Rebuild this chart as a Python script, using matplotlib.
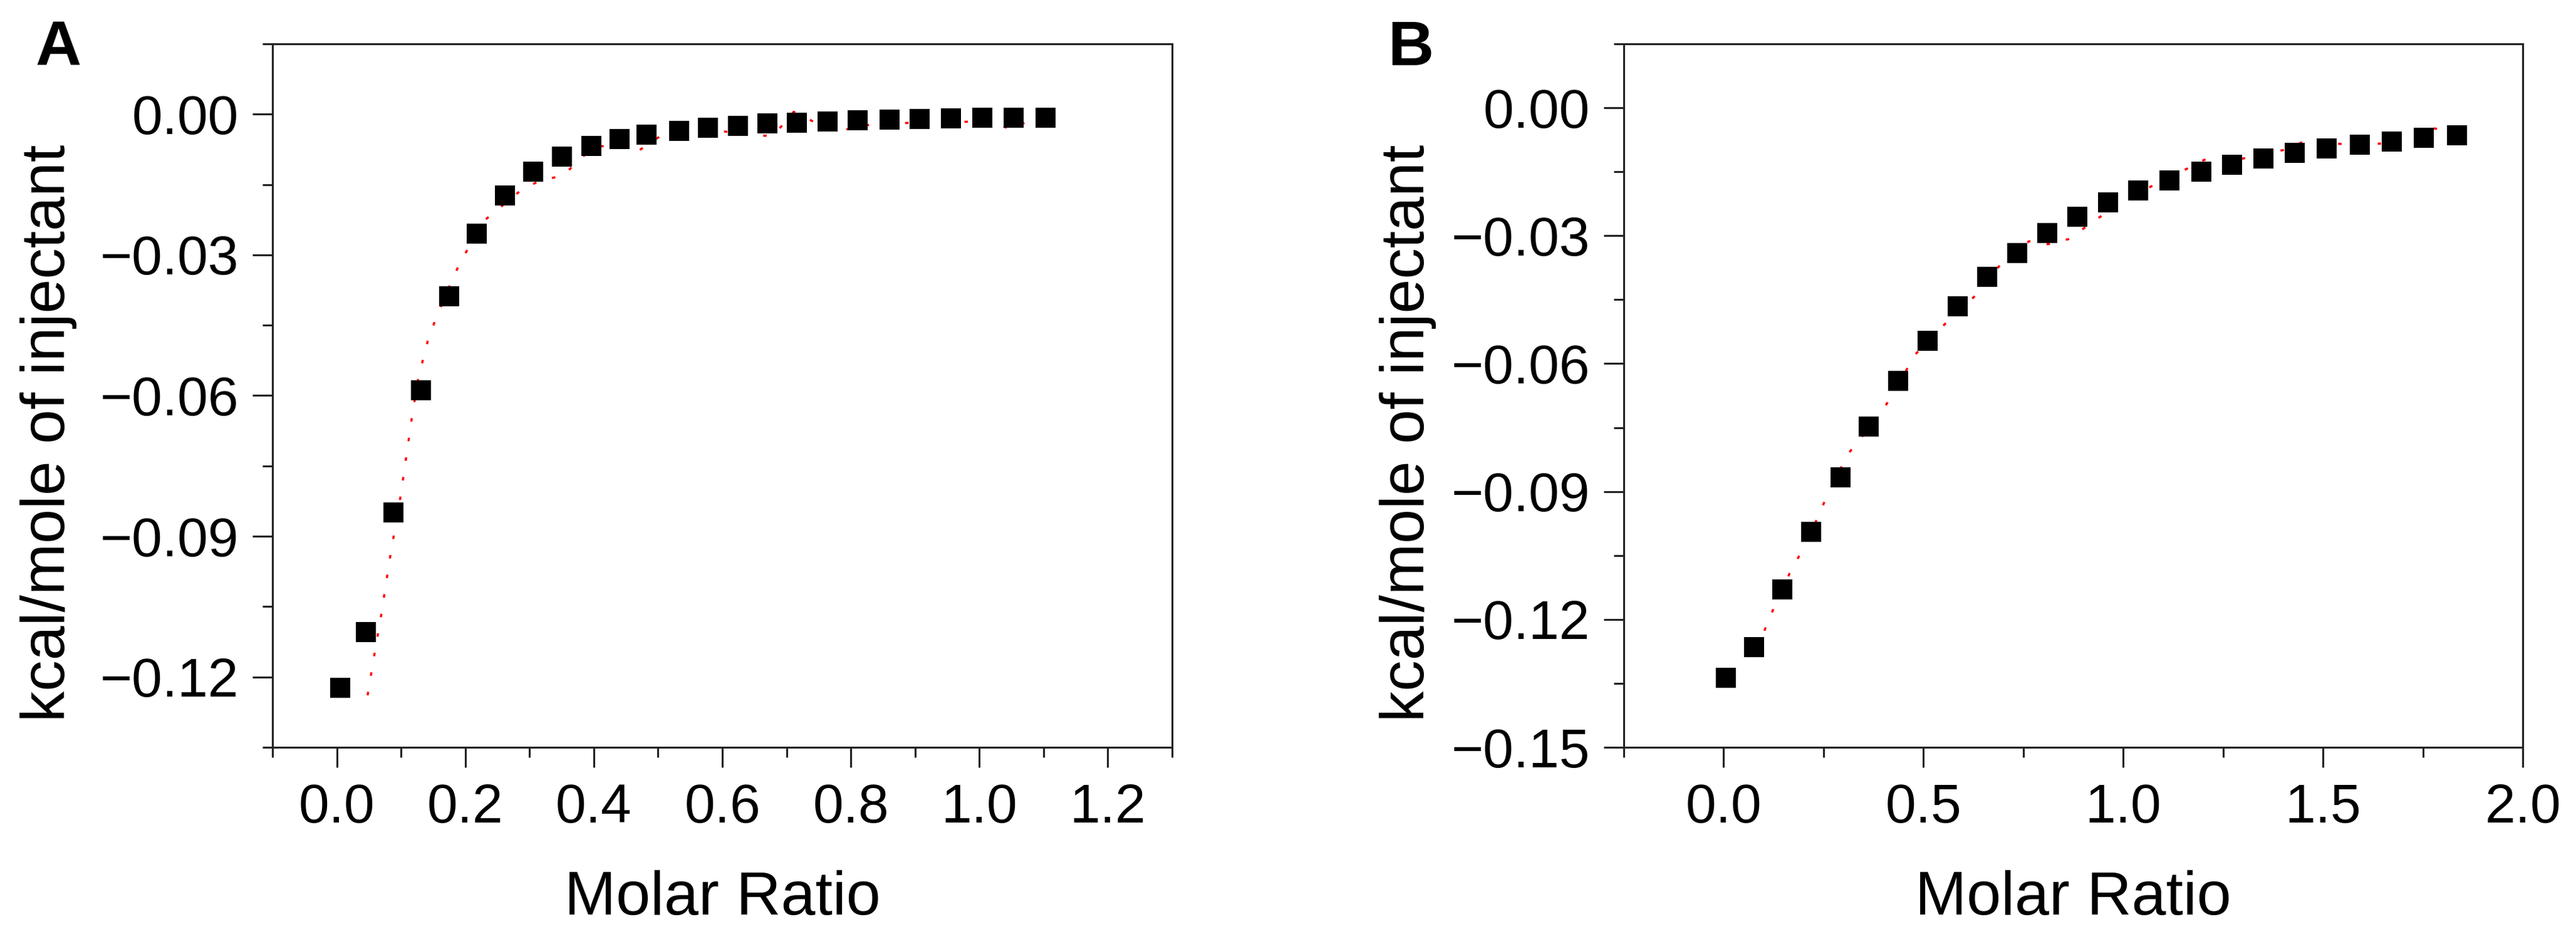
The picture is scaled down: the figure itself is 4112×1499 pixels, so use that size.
import matplotlib

matplotlib.use("Agg")
import matplotlib.pyplot as plt
from matplotlib.ticker import FuncFormatter, MultipleLocator

plt.rcParams["font.family"] = ["Liberation Sans", "DejaVu Sans"]

# ---- panel A: injection data and fitted curve ----
a_ratio = [0.005, 0.045, 0.088, 0.131, 0.175, 0.218, 0.262, 0.306, 0.350, 0.396,
           0.440, 0.482, 0.533, 0.578, 0.624, 0.670, 0.716, 0.764, 0.811, 0.860,
           0.907, 0.956, 1.005, 1.053, 1.103]
a_heat = [-0.1223, -0.1104, -0.0849, -0.0589, -0.0388, -0.0255, -0.0173, -0.0122,
          -0.0091, -0.0068, -0.0053, -0.0044, -0.0035, -0.0029, -0.0025, -0.0020,
          -0.0018, -0.0016, -0.0013, -0.0012, -0.0010, -0.0009, -0.0008, -0.0007,
          -0.0007]
a_fit_ratio = [0.048, 0.058, 0.069, 0.083, 0.099, 0.108, 0.117, 0.127, 0.143, 0.155,
               0.181, 0.196, 0.232, 0.293, 0.324, 0.353, 0.380, 0.411, 0.473, 0.501,
               0.528, 0.557, 0.651, 0.680, 0.711, 0.742, 0.773, 0.835, 0.927, 0.989,
               1.021, 1.052, 1.083, 1.103]
a_fit_heat = [-0.1239, -0.1156, -0.1069, -0.0944, -0.0817, -0.0732, -0.0646, -0.0562,
              -0.0476, -0.0434, -0.0348, -0.0306, -0.0224, -0.0155, -0.0139, -0.0131,
              -0.0092, -0.0068, -0.0075, -0.0049, -0.0008, -0.0027, -0.0047, -0.0045,
              0.0005, -0.0016, -0.0038, -0.0021, -0.0017, -0.0016, -0.0019, -0.0033,
              -0.0008, -0.0007]

# ---- panel B ----
b_ratio = [0.006, 0.076, 0.147, 0.219, 0.292, 0.363, 0.437, 0.510, 0.585, 0.659,
           0.734, 0.810, 0.885, 0.962, 1.038, 1.116, 1.195, 1.273, 1.351, 1.430,
           1.510, 1.592, 1.672, 1.753, 1.835]
b_heat = [-0.1337, -0.1265, -0.1130, -0.0995, -0.0867, -0.0747, -0.0640, -0.0546,
          -0.0465, -0.0397, -0.0341, -0.0293, -0.0255, -0.0221, -0.0194, -0.0171,
          -0.0150, -0.0134, -0.0119, -0.0106, -0.0096, -0.0086, -0.0079, -0.0071,
          -0.0065]
b_fit_ratio = [0.080, 0.099, 0.120, 0.165, 0.192, 0.240, 0.260, 0.312, 0.393, 0.423,
               0.480, 0.557, 0.649, 0.688, 0.764, 0.812, 0.863, 0.910, 1.004, 1.153,
               1.203, 1.300, 1.401, 1.450, 1.550, 1.646, 1.701, 1.751, 1.798, 1.835]
b_fit_heat = [-0.1268, -0.1233, -0.1185, -0.1092, -0.1046, -0.0952, -0.0906, -0.0811,
              -0.0717, -0.0672, -0.0578, -0.0504, -0.0424, -0.0373, -0.0313, -0.0320,
              -0.0308, -0.0277, -0.0215, -0.0146, -0.0122, -0.0119, -0.0099, -0.0080,
              -0.0085, -0.0084, -0.0069, -0.0045, -0.0051, -0.0058]

W, H = 4112, 1499
fig = plt.figure(figsize=(W / 100, H / 100), dpi=100)
fig.patch.set_facecolor("white")


def minus_fmt(decimals):
    def fmt(v, _pos):
        if abs(v) < 1e-9:
            v = 0.0
        return f"{v:.{decimals}f}".replace("-", "\u2212")
    return FuncFormatter(fmt)


def style_axes(ax, xlim, ylim, xmaj, xmin, ymaj, ymin, label_x):
    ax.set_xlim(*xlim)
    ax.set_ylim(*ylim)
    ax.xaxis.set_major_locator(MultipleLocator(xmaj))
    ax.xaxis.set_minor_locator(MultipleLocator(xmin))
    ax.yaxis.set_major_locator(MultipleLocator(ymaj))
    ax.yaxis.set_minor_locator(MultipleLocator(ymin))
    ax.xaxis.set_major_formatter(minus_fmt(1))
    ax.yaxis.set_major_formatter(minus_fmt(2))
    for sp in ax.spines.values():
        sp.set_linewidth(2.2)
        sp.set_color("#222222")
    ax.tick_params(which="both", direction="out", width=2.2, color="#222222",
                   top=False, right=False)
    ax.tick_params(which="major", length=23, labelsize=63)
    ax.tick_params(axis="x", which="major", pad=18)
    ax.tick_params(axis="y", which="major", pad=16)
    ax.tick_params(which="minor", length=11.5)
    ax.set_xlabel("Molar Ratio", fontsize=71)
    ax.set_ylabel("kcal/mole of injectant", fontsize=71)
    ax.xaxis.set_label_coords(0.5, -0.215)
    ax.yaxis.set_label_coords(label_x, 0.447)
    ax.xaxis.label.set_va("center")
    ax.yaxis.label.set_va("center")


def draw_panel(ax, x, y, fx, fy):
    ax.plot(fx, fy, color="red", linewidth=2.5, dashes=(1.6, 7.5), zorder=1)
    ax.plot(x, y, linestyle="none", marker="s", markersize=23,
            markerfacecolor="black", markeredgewidth=0, zorder=2)


ax_a = fig.add_axes([435 / W, 1 - 1193 / H, 1436 / W, 1123 / H])
draw_panel(ax_a, a_ratio, a_heat, a_fit_ratio, a_fit_heat)
style_axes(ax_a, (-0.1, 1.3), (-0.135, 0.015), 0.2, 0.1, 0.03, 0.015, -0.249)

ax_b = fig.add_axes([2592 / W, 1 - 1193 / H, 1435 / W, 1123 / H])
draw_panel(ax_b, b_ratio, b_heat, b_fit_ratio, b_fit_heat)
style_axes(ax_b, (-0.25, 2.0), (-0.15, 0.015), 0.5, 0.25, 0.03, 0.015, -0.240)

fig.text(56 / W, 1 - 104 / H, "A", fontsize=73, fontweight="bold",
         ha="left", va="baseline")
fig.text(2215 / W, 1 - 104 / H, "B", fontsize=73, fontweight="bold",
         ha="left", va="baseline")

fig.savefig("out.png", dpi=100)
